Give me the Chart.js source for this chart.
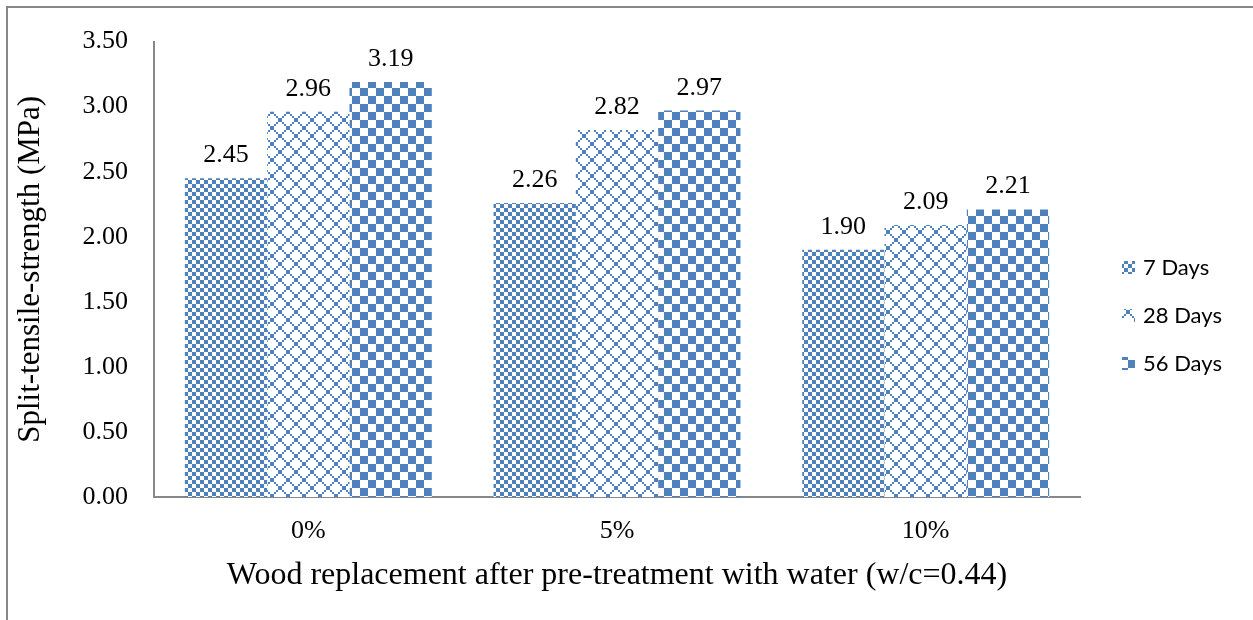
<!DOCTYPE html>
<html>
<head>
<meta charset="utf-8">
<script src="https://cdn.jsdelivr.net/npm/chart.js@4.4.1/dist/chart.umd.min.js"></script>
<style>
    html, body { margin: 0; padding: 0; background: #fff; }
    #wrap { width: 1253px; height: 620px; }
</style>
</head>
<body>
<div id="wrap"><canvas id="chart" width="1253" height="620"></canvas></div>
<script>
// chart data
const categories = ['0%', '5%', '10%'];
const seriesNames = ['7 Days', '28 Days', '56 Days'];
const days7 = [2.45, 2.26, 1.90];
const days28 = [2.96, 2.82, 2.09];
const days56 = [3.19, 2.97, 2.21];
const yTicks = [0, 0.5, 1, 1.5, 2, 2.5, 3, 3.5];

const BLUE = '#4f81bd';
const SERIF = '"Liberation Serif", "Times New Roman", serif';

// build an 8x8 bitmap pattern scaled up by 'scale'
const makePattern = (isOn, scale) => {
    const c = document.createElement('canvas');
    c.width = 8 * scale;
    c.height = 8 * scale;
    const g = c.getContext('2d');
    g.fillStyle = '#fff';
    g.fillRect(0, 0, c.width, c.height);
    g.fillStyle = BLUE;
    for (let y = 0; y < 8; y++) {
        for (let x = 0; x < 8; x++) {
            if (isOn(x, y)) g.fillRect(x * scale, y * scale, scale, scale);
        }
    }
    return g.createPattern(c, 'repeat');
};

const smallChecker = makePattern((x, y) => (Math.floor(x / 2) + Math.floor(y / 2)) % 2 === 0, 2);
const diamond = makePattern((x, y) => x === y || x + y === 7, 2);
const largeChecker = makePattern((x, y) => (Math.floor(x / 4) + Math.floor(y / 4)) % 2 === 0, 2);

// frame line at top and left
const framePlugin = {
    id: 'frame',
    beforeDraw(chart) {
        const ctx = chart.ctx;
        ctx.save();
        ctx.fillStyle = '#fff';
        ctx.fillRect(0, 0, chart.width, chart.height);
        ctx.strokeStyle = '#888';
        ctx.lineWidth = 2;
        ctx.beginPath();
        ctx.moveTo(7, chart.height);
        ctx.lineTo(7, 7);
        ctx.lineTo(chart.width, 7);
        ctx.stroke();
        ctx.restore();
    }
};

// value labels above the bars
const valueLabels = {
    id: 'valueLabels',
    afterDatasetsDraw(chart) {
        const ctx = chart.ctx;
        ctx.save();
        ctx.font = '26px ' + SERIF;
        ctx.fillStyle = '#000';
        ctx.textAlign = 'center';
        ctx.textBaseline = 'alphabetic';
        chart.data.datasets.forEach((ds, i) => {
            chart.getDatasetMeta(i).data.forEach((bar, j) => {
                ctx.fillText(ds.data[j].toFixed(2), bar.x, bar.y - 16);
            });
        });
        ctx.restore();
    }
};

// legend on the right
const sideLegend = {
    id: 'sideLegend',
    afterDraw(chart) {
        const ctx = chart.ctx;
        ctx.save();
        ctx.font = '22px Lato, "Open Sans", sans-serif';
        ctx.textBaseline = 'middle';
        const x = chart.chartArea.right + 42;
        const y0 = 267;
        chart.data.datasets.forEach((ds, i) => {
            const y = y0 + i * 48;
            ctx.fillStyle = ds.backgroundColor;
            ctx.fillRect(x, y - 6, 13, 13);
            ctx.fillStyle = '#000';
            ctx.fillText(ds.label, x + 21, y + 1);
        });
        ctx.restore();
    }
};

new Chart(document.getElementById('chart'), {
    type: 'bar',
    data: {
        labels: categories,
        datasets: [
            { label: seriesNames[0], data: days7, backgroundColor: smallChecker },
            { label: seriesNames[1], data: days28, backgroundColor: diamond },
            { label: seriesNames[2], data: days56, backgroundColor: largeChecker },
        ],
    },
    options: {
        responsive: false,
        animation: false,
        devicePixelRatio: 1,
        layout: { padding: { top: 37, right: 173, left: 0, bottom: 0 } },
        datasets: { bar: { categoryPercentage: 0.8, barPercentage: 1.0 } },
        plugins: { legend: { display: false }, tooltip: { enabled: false } },
        scales: {
            x: {
                grid: { display: false, drawTicks: false },
                border: { color: '#888', width: 2 },
                ticks: { color: '#000', font: { family: SERIF, size: 26 }, padding: 19 },
                title: {
                    display: true,
                    text: 'Wood replacement after pre-treatment with water (w/c=0.44)',
                    color: '#000',
                    font: { family: SERIF, size: 32 },
                    padding: { top: 0, bottom: 25 },
                },
                afterFit: (scale) => { scale.height = 123; },
            },
            y: {
                min: yTicks[0],
                max: yTicks[yTicks.length - 1],
                grid: { display: false, drawTicks: false },
                border: { color: '#888', width: 2 },
                ticks: {
                    stepSize: 0.5,
                    color: '#000',
                    font: { family: SERIF, size: 26 },
                    padding: 26,
                    callback: (v) => Number(v).toFixed(2),
                },
                title: {
                    display: true,
                    text: 'Split-tensile-strength (MPa)',
                    color: '#000',
                    font: { family: SERIF, size: 31 },
                    padding: { top: 12, bottom: 0 },
                },
                afterFit: (scale) => { scale.width = 154; },
            },
        },
    },
    plugins: [framePlugin, valueLabels, sideLegend],
});
</script>
</body>
</html>
